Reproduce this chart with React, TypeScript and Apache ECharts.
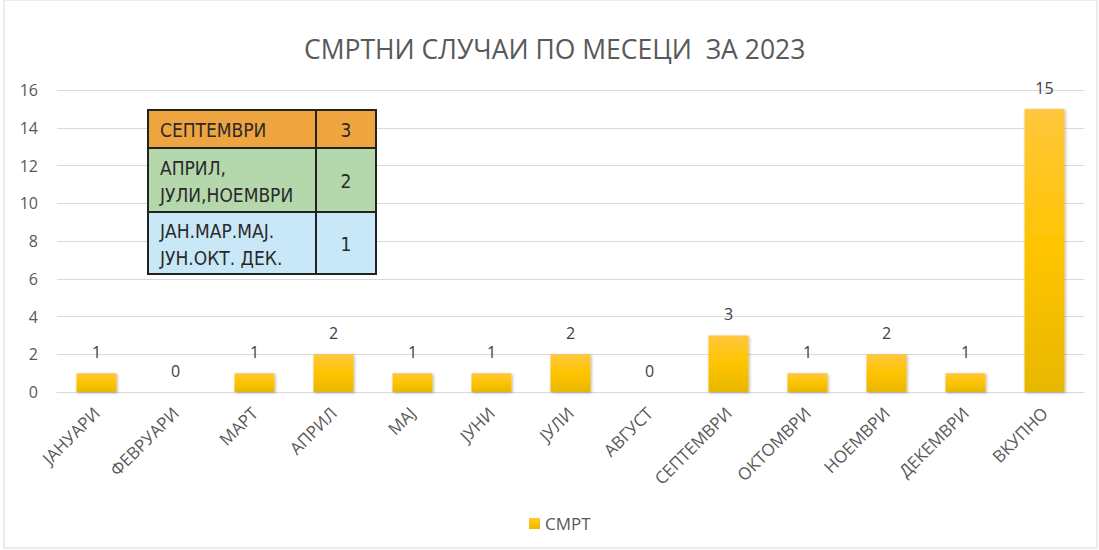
import React, { useEffect, useRef } from "react";
import * as echarts from "echarts";

const categories = [
  "ЈАНУАРИ", "ФЕВРУАРИ", "МАРТ", "АПРИЛ", "МАЈ", "ЈУНИ", "ЈУЛИ",
  "АВГУСТ", "СЕПТЕМВРИ", "ОКТОМВРИ", "НОЕМВРИ", "ДЕКЕМВРИ", "ВКУПНО",
];
const deaths = [1, 0, 1, 2, 1, 1, 2, 0, 3, 1, 2, 1, 15];
const seriesName = "СМРТ";
const titleText = "СМРТНИ СЛУЧАИ ПО МЕСЕЦИ  ЗА 2023";

const tableLabels = ["СЕПТЕМВРИ", "АПРИЛ,\nЈУЛИ,НОЕМВРИ", "ЈАН.МАР.МАЈ.\nЈУН.ОКТ. ДЕК."];
const tableValues = ["3", "2", "1"];
const tableColors = ["#EEA43F", "#B5D7AC", "#C8E8F8"];

export default function App() {
  const ref = useRef<HTMLDivElement>(null);
  useEffect(() => {
    document.body.style.margin = "0";
    const chart = echarts.init(ref.current!, null, { renderer: "svg" });
    const font = "'Open Sans', sans-serif";
    const tfont = "'DejaVu Sans Condensed', 'Roboto', sans-serif";

    const tx0 = 148, tx1 = 316, tx2 = 376;
    const rowY = [110, 148, 212, 274];
    const tableEls: any[] = [];
    tableLabels.forEach((lab, i) => {
      const y0 = rowY[i], y1 = rowY[i + 1];
      tableEls.push({
        type: "rect", shape: { x: tx0, y: y0, width: tx1 - tx0, height: y1 - y0 },
        style: { fill: tableColors[i], stroke: "#222", lineWidth: 2 }, z: 10,
      });
      tableEls.push({
        type: "rect", shape: { x: tx1, y: y0, width: tx2 - tx1, height: y1 - y0 },
        style: { fill: tableColors[i], stroke: "#222", lineWidth: 2 }, z: 10,
      });
      tableEls.push({
        type: "text", x: tx0 + 12, y: (y0 + y1) / 2 + 1, z: 11,
        style: {
          text: lab, fill: "#2a2a2a", font: "19px " + tfont,
          verticalAlign: "middle", align: "left", lineHeight: 27,
        },
      });
      tableEls.push({
        type: "text", x: (tx1 + tx2) / 2, y: (y0 + y1) / 2 + 1, z: 11,
        style: {
          text: tableValues[i], fill: "#2a2a2a", font: "19px " + tfont,
          verticalAlign: "middle", align: "center",
        },
      });
    });

    const barColor = new echarts.graphic.LinearGradient(0, 0, 0, 1, [
      { offset: 0, color: "#FFC73D" },
      { offset: 0.5, color: "#FFC400" },
      { offset: 1, color: "#E7B700" },
    ]);

    chart.setOption({
      animation: false,
      textStyle: { fontFamily: font },
      title: {
        text: titleText, left: 299, top: 30,
        textStyle: { fontSize: 26.5, fontWeight: "normal", color: "#595959", fontFamily: font },
      },
      grid: { left: 57, right: 15, top: 90, bottom: 158 },
      legend: {
        bottom: 13, left: 524, icon: "rect", itemWidth: 11, itemHeight: 11, itemGap: 5,
        textStyle: { fontSize: 17, color: "#595959", fontFamily: font },
        data: [seriesName],
      },
      xAxis: {
        type: "category", data: categories,
        axisLine: { lineStyle: { color: "#d9d9d9" } },
        axisTick: { show: false },
        axisLabel: { rotate: 45, margin: 18, fontSize: 17, color: "#595959", interval: 0, fontFamily: font },
      },
      yAxis: {
        type: "value", min: 0, max: 16, interval: 2,
        axisLine: { show: false }, axisTick: { show: false },
        axisLabel: { fontSize: 16, color: "#595959", margin: 19, fontFamily: font },
        splitLine: { lineStyle: { color: "#d9d9d9" } },
      },
      series: [{
        name: seriesName, type: "bar", data: deaths, barWidth: 40,
        itemStyle: {
          color: barColor, shadowBlur: 3, shadowColor: "rgba(0,0,0,0.3)",
          shadowOffsetX: 1, shadowOffsetY: 1,
        },
        label: { show: true, position: "top", distance: 13, fontSize: 16, color: "#404040", fontFamily: font },
      }],
      graphic: [
        {
          type: "rect", shape: { x: 4, y: 0, width: 1093, height: 548 },
          style: { fill: "none", stroke: "#d9d9d9", lineWidth: 1 }, silent: true,
        },
        ...tableEls,
      ],
    });
    return () => chart.dispose();
  }, []);
  return <div ref={ref} style={{ width: 1099, height: 550 }} />;
}
